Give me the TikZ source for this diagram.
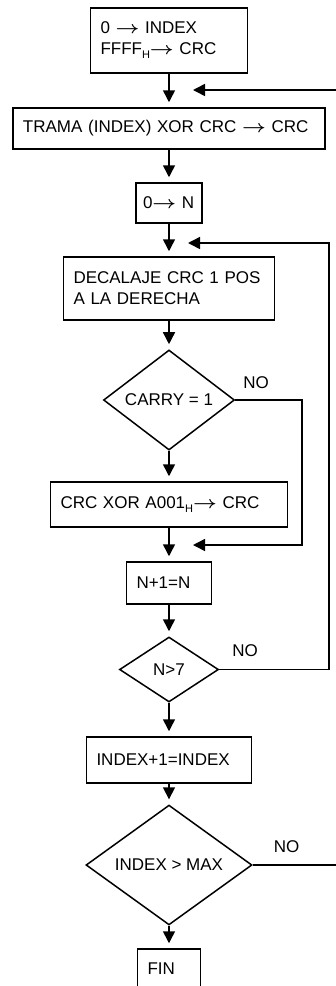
\documentclass[tikz,border=0pt]{standalone}
\usepackage{fontspec}
\setmainfont{Liberation Sans}
\usetikzlibrary{shapes.geometric,arrows.meta}
\newcommand\hsub[1]{\raisebox{-4pt}{\fontsize{11}{11}\selectfont #1}}
\newcommand\ra{\scalebox{1.2}[1]{\boldmath$\rightarrow$}}
\begin{document}
\begin{tikzpicture}[x=1pt,y=-1pt,
  every node/.style={font=\fontsize{17}{21}\selectfont},
  proc/.style={draw, line width=1.5pt, inner xsep=10pt, inner ysep=0pt, align=left},
  dec/.style={draw, diamond, line width=1.5pt, inner sep=0pt, align=center},
  flow/.style={line width=1.5pt, -{Triangle[length=12pt,width=12pt]}, shorten >=5pt},
  back/.style={line width=1.5pt, -{Triangle[length=12pt,width=12pt]}},
  lbl/.style={inner sep=0pt}]
\useasboundingbox (0,0) rectangle (336,986);
\clip (0,0) rectangle (336,986);

\node[proc, text width=137pt, minimum height=65pt] (init) at (169,40.5) {0 \ra{} INDEX\\FFFF\hsub{H}\ra{} CRC};
\node[proc, text width=292pt, minimum height=41pt] (trama) at (169,128.5) {TRAMA (INDEX) XOR CRC \ra{} CRC};
\node[proc, inner xsep=7pt, text width=52pt, minimum height=40pt] (zeron) at (169,203) {0\ra{} N};
\node[proc, text width=191pt, minimum height=63pt] (shift) at (169,288.5) {DECALAJE CRC 1 POS\\A LA DERECHA};
\node[dec, minimum width=131pt, minimum height=94pt] (carry) at (169,400) {CARRY = 1};
\node[proc, text width=217pt, minimum height=45pt] (xor) at (169,504.5) {CRC XOR A001\hsub{H}\ra{} CRC};
\node[proc, text width=65pt, minimum height=42pt] (incn) at (169,583) {N+1=N};
\node[dec, minimum width=99pt, minimum height=65pt] (ngt) at (169,669.5) {N>7};
\node[proc, text width=145pt, minimum height=46pt] (inci) at (169,760) {INDEX+1=INDEX};
\node[dec, minimum width=166pt, minimum height=98pt] (imax) at (169,865) {INDEX > MAX};
\node[proc, text width=43pt, minimum height=40pt] (fin) at (169,969) {FIN};

\node[lbl] (no1) at (256,383) {NO};
\node[lbl] (no2) at (245,651) {NO};
\node[lbl] (no3) at (286.5,846.5) {NO};

\coordinate (j1) at (169,90);
\coordinate (j2) at (169,243);
\coordinate (j3) at (169,545);
\coordinate (r1) at (345,0);
\coordinate (r2) at (329,0);
\coordinate (r3) at (302,0);

\draw[flow] (init) -- (trama);
\draw[flow] (trama) -- (zeron);
\draw[flow] (zeron) -- (shift);
\draw[flow] (shift) -- (carry);
\draw[flow] (carry) -- (xor);
\draw[flow] (xor) -- (incn);
\draw[flow] (incn) -- (ngt);
\draw[flow] (ngt) -- (inci);
\draw[flow] (inci) -- (imax);
\draw[flow] (imax) -- (fin);

\draw[back, shorten >=24pt] (carry.east) -- (carry.east -| r3) |- (j3);
\draw[back, shorten >=19pt] (ngt.east) -- (ngt.east -| r2) |- (j2);
\draw[back, shorten >=24pt] (imax.east) -- (imax.east -| r1) |- (j1);
\end{tikzpicture}
\end{document}
